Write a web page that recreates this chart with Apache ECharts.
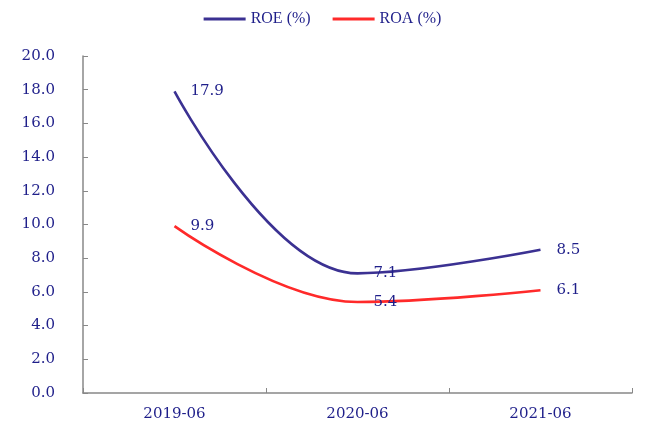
<!DOCTYPE html>
<html>
<head>
<meta charset="utf-8">
<script src="https://cdn.jsdelivr.net/npm/echarts@6/dist/echarts.min.js"></script>
<style>
  html, body { margin: 0; padding: 0; background: #fff; }
  #main { width: 645px; height: 425px; }
</style>
</head>
<body>
<div id="main"></div>
<script>
// 数据
var categories = ['2019-06', '2020-06', '2021-06'];
var roe = [17.9, 7.1, 8.5];
var roa = [9.9, 5.4, 6.1];
var seriesNames = ['ROE (%)', 'ROA (%)'];

var textColor = '#1f1f8a';
var fontFamily = '"DejaVu Serif", "Liberation Serif", serif';

var myChart = echarts.init(document.getElementById('main'));

function lineSeries(name, data, color) {
    return {
        name: name,
        type: 'line',
        data: data,
        smooth: 0.4,
        symbol: 'circle',
        symbolSize: 0,
        showSymbol: true,
        lineStyle: { color: color, width: 2.6 },
        itemStyle: { color: color },
        label: {
            show: true,
            position: 'right',
            distance: 16,
            color: textColor,
            fontFamily: fontFamily,
            fontSize: 15,
            formatter: function (p) { return p.value.toFixed(1); }
        }
    };
}

var option = {
    animation: false,
    legend: {
        top: 6,
        left: 'center',
        itemWidth: 42,
        itemHeight: 3,
        itemGap: 22,
        icon: 'rect',
        textStyle: { color: textColor, fontFamily: '"Liberation Serif", serif', fontSize: 16 },
        data: seriesNames
    },
    grid: { left: 83, right: 13, top: 56, bottom: 32 },
    xAxis: {
        type: 'category',
        data: categories,
        boundaryGap: true,
        axisLine: { lineStyle: { color: '#888', width: 1.5 } },
        axisTick: { show: true, inside: true, length: 5, lineStyle: { color: '#888' } },
        axisLabel: { color: textColor, fontFamily: fontFamily, fontSize: 15, margin: 14 }
    },
    yAxis: {
        type: 'value',
        min: 0,
        max: 20,
        interval: 2,
        axisLine: { show: true, lineStyle: { color: '#888', width: 1.5 } },
        axisTick: { show: true, inside: true, length: 5, lineStyle: { color: '#888' } },
        splitLine: { show: false },
        axisLabel: {
            color: textColor,
            fontFamily: fontFamily,
            fontSize: 15,
            margin: 28,
            formatter: function (v) { return v.toFixed(1); }
        }
    },
    series: [
        lineSeries(seriesNames[0], roe, '#3b3192'),
        lineSeries(seriesNames[1], roa, '#ff2a2a')
    ]
};

myChart.setOption(option);
</script>
</body>
</html>
